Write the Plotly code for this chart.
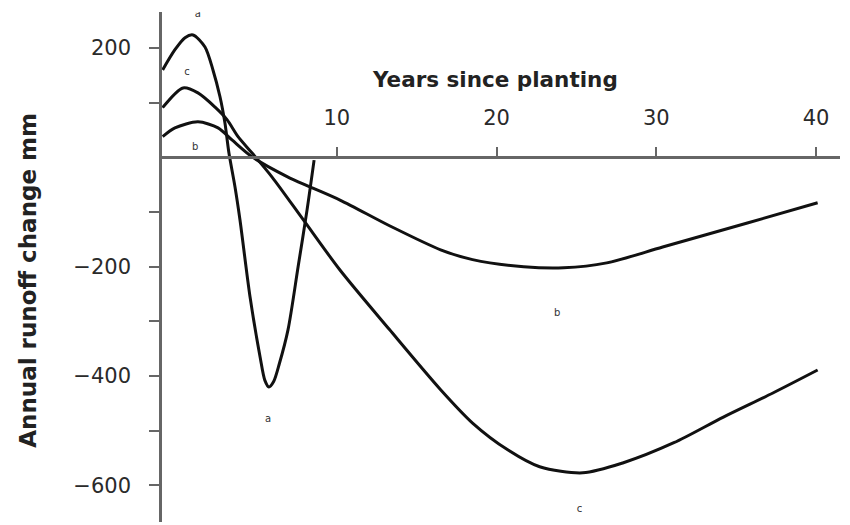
import plotly.graph_objects as go

# ---- data ----
a_years = [-0.9, -0.13, 0.5, 1.0, 1.75, 2.25, 2.69, 3.0, 3.25, 3.63, 3.94, 4.57, 5.2, 5.5, 5.75, 6.05, 6.4, 6.95, 7.58, 8.14, 8.58]
a_runoff = [160, 197, 219, 224, 202, 160, 111, 63, 8, -54, -114, -255, -365, -408, -420, -410, -378, -315, -200, -96, -5]

b_years = [-0.9, -0.13, 1.31, 2.57, 3.44, 4.7, 6.95, 10.2, 13.3, 16.5, 18.5, 21.7, 24.2, 26.9, 30.4, 35.7, 40.1]
b_runoff = [38, 54, 65, 54, 32, 1, -36, -78, -125, -169, -187, -200, -202, -193, -164, -120, -83]

c_years = [-0.9, 0.38, 1.31, 2.38, 3.13, 3.82, 4.7, 5.95, 7.9, 10.2, 13.3, 16.5, 18.5, 20.7, 22.7, 25.4, 27.9, 31.1, 34.2, 37.3, 40.1]
c_runoff = [91, 127, 118, 92, 69, 38, 8, -36, -114, -206, -315, -425, -486, -535, -566, -577, -559, -522, -475, -431, -389]

x_tickvals = [10, 20, 30, 40]
y_tickvals = [200, 100, -100, -200, -300, -400, -500, -600]
y_ticktext = ["200", "", "", "\u2212200", "", "\u2212400", "", "\u2212600"]

curve_labels = ["a", "c", "b", "a", "b", "c"]
label_years = [1.3, 0.63, 1.13, 5.7, 23.8, 25.2]
label_runoff = [262, 156, 19, -480, -285, -645]

X_RANGE = [-0.94, 41.5]
Y_RANGE = [-667, 266]

fig = go.Figure()
for xs, ys in [(a_years, a_runoff), (b_years, b_runoff), (c_years, c_runoff)]:
    fig.add_trace(go.Scatter(x=xs, y=ys, mode="lines",
                             line=dict(color="#111111", width=3, shape="spline", smoothing=0.8),
                             showlegend=False, hoverinfo="skip"))

fig.add_trace(go.Scatter(x=label_years, y=label_runoff, mode="text", text=curve_labels,
                         textfont=dict(family="DejaVu Sans", size=10, color="#333333"),
                         showlegend=False, hoverinfo="skip"))

x_pos = (0 - Y_RANGE[0]) / (Y_RANGE[1] - Y_RANGE[0])
axis_col = "#666666"
tick_font = dict(family="DejaVu Sans", size=21, color="#2a2a2a")

fig.update_layout(
    width=850, height=525,
    margin=dict(l=162, r=10, t=12, b=3),
    paper_bgcolor="white", plot_bgcolor="white",
    xaxis=dict(range=X_RANGE, anchor="free", position=x_pos, side="top",
               showline=True, linecolor=axis_col, linewidth=2.5,
               ticks="outside", ticklen=10, tickwidth=2, tickcolor=axis_col,
               tickvals=x_tickvals, tickfont=tick_font, ticklabelstandoff=13,
               showgrid=False, zeroline=False),
    xaxis2=dict(range=X_RANGE, overlaying="x", anchor="free", position=x_pos, side="top",
                showline=False, ticks="inside", ticklen=10, tickwidth=2, tickcolor=axis_col,
                tickvals=x_tickvals, showticklabels=False, showgrid=False, zeroline=False),
    yaxis=dict(range=Y_RANGE, anchor="x", showline=True, linecolor=axis_col, linewidth=2.5,
               ticks="outside", ticklen=10, tickwidth=2, tickcolor=axis_col,
               tickvals=y_tickvals, ticktext=y_ticktext, tickfont=tick_font, ticklabelstandoff=14,
               showgrid=False, zeroline=False),
    yaxis2=dict(range=Y_RANGE, overlaying="y", anchor="x", side="left", showline=False,
                ticks="inside", ticklen=10, tickwidth=2, tickcolor=axis_col,
                tickvals=y_tickvals, showticklabels=False, showgrid=False, zeroline=False),
    annotations=[
        dict(text="Years since planting", x=0.491, y=0.867, xref="paper", yref="paper",
             xanchor="center", yanchor="middle", showarrow=False,
             font=dict(family="DejaVu Sans", size=21.5, color="#222222", weight="bold")),
        dict(text="Annual runoff change mm", x=-0.198, y=0.4745, xref="paper", yref="paper",
             xanchor="center", yanchor="middle", showarrow=False, textangle=-90,
             font=dict(family="DejaVu Sans", size=23, color="#222222", weight="bold")),
    ],
)

fig.write_html("out.html")
